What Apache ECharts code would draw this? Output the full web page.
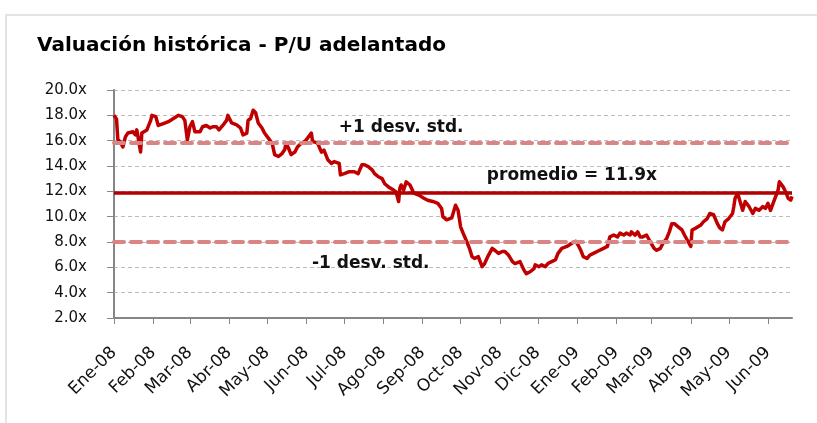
<!DOCTYPE html>
<html>
<head>
<meta charset="utf-8">
<title>Valuación histórica - P/U adelantado</title>
<script src="https://cdn.jsdelivr.net/npm/echarts@6/dist/echarts.min.js"></script>
<style>
  html, body { margin: 0; padding: 0; background: #fff; }
  #frame { position: absolute; left: 5px; top: 14px; width: 830px; height: 430px;
           border-left: 2px solid #e4e4e4; border-top: 2px solid #e4e4e4; }
  #chart { position: absolute; left: 0; top: 0; width: 817px; height: 423px; }
</style>
</head>
<body>
<div id="frame"></div>
<div id="chart"></div>
<script>
// P/E forward ratio
const peDates = [
  '2008-01-01','2008-01-03','2008-01-04','2008-01-06','2008-01-08','2008-01-10','2008-01-12','2008-01-16',
  '2008-01-18','2008-01-19','2008-01-20','2008-01-22','2008-01-23','2008-01-24','2008-01-27','2008-01-30',
  '2008-01-31','2008-02-03','2008-02-05','2008-02-09','2008-02-13','2008-02-17','2008-02-21','2008-02-24',
  '2008-02-26','2008-02-28','2008-03-01','2008-03-03','2008-03-05','2008-03-09','2008-03-11','2008-03-14',
  '2008-03-17','2008-03-19','2008-03-22','2008-03-24','2008-03-27','2008-03-30','2008-03-31','2008-04-03',
  '2008-04-07','2008-04-10','2008-04-12','2008-04-15','2008-04-16','2008-04-18','2008-04-20','2008-04-22',
  '2008-04-24','2008-04-27','2008-04-29','2008-05-02','2008-05-05','2008-05-07','2008-05-10','2008-05-13',
  '2008-05-15','2008-05-16','2008-05-18','2008-05-20','2008-05-23','2008-05-25','2008-05-28','2008-05-31',
  '2008-06-02','2008-06-05','2008-06-06','2008-06-10','2008-06-13','2008-06-15','2008-06-18','2008-06-21',
  '2008-06-23','2008-06-27','2008-06-28','2008-07-01','2008-07-05','2008-07-09','2008-07-12','2008-07-15',
  '2008-07-17','2008-07-20','2008-07-23','2008-07-25','2008-07-28','2008-07-31','2008-08-02','2008-08-05',
  '2008-08-09','2008-08-11','2008-08-13','2008-08-14','2008-08-15','2008-08-17','2008-08-19','2008-08-22',
  '2008-08-25','2008-08-29','2008-09-02','2008-09-05','2008-09-09','2008-09-13','2008-09-16','2008-09-17',
  '2008-09-20','2008-09-24','2008-09-27','2008-09-29','2008-10-01','2008-10-03','2008-10-06','2008-10-08',
  '2008-10-10','2008-10-12','2008-10-15','2008-10-18','2008-10-20','2008-10-23','2008-10-26','2008-10-28',
  '2008-10-31','2008-11-03','2008-11-05','2008-11-08','2008-11-11','2008-11-13','2008-11-17','2008-11-20',
  '2008-11-22','2008-11-25','2008-11-28','2008-11-29','2008-12-02','2008-12-04','2008-12-07','2008-12-09',
  '2008-12-12','2008-12-15','2008-12-17','2008-12-20','2008-12-24','2008-12-28','2008-12-31','2009-01-02',
  '2009-01-04','2009-01-06','2009-01-09','2009-01-11','2009-01-14','2009-01-17','2009-01-19','2009-01-22',
  '2009-01-25','2009-01-27','2009-01-30','2009-02-02','2009-02-04','2009-02-07','2009-02-09','2009-02-12',
  '2009-02-13','2009-02-16','2009-02-18','2009-02-20','2009-02-22','2009-02-25','2009-02-28','2009-03-03',
  '2009-03-05','2009-03-08','2009-03-10','2009-03-13','2009-03-15','2009-03-17','2009-03-19','2009-03-22',
  '2009-03-25','2009-03-27','2009-03-30','2009-04-01','2009-04-02','2009-04-05','2009-04-09','2009-04-11',
  '2009-04-14','2009-04-16','2009-04-19','2009-04-22','2009-04-24','2009-04-26','2009-04-28','2009-05-01',
  '2009-05-04','2009-05-05','2009-05-06','2009-05-08','2009-05-09','2009-05-12','2009-05-14','2009-05-17',
  '2009-05-20','2009-05-22','2009-05-25','2009-05-28','2009-05-30','2009-06-01','2009-06-03','2009-06-06',
  '2009-06-09','2009-06-10','2009-06-13','2009-06-15','2009-06-17','2009-06-19','2009-06-20'
];
const peValues = [
  18.0, 17.7, 16.1, 15.9, 15.5, 16.3, 16.6, 16.7,
  16.45, 16.85, 16.3, 15.1, 16.6, 16.7, 16.85, 17.6,
  18.0, 17.9, 17.2, 17.35, 17.5, 17.75, 18.0, 17.9,
  17.6, 16.05, 17.1, 17.5, 16.7, 16.7, 17.1, 17.2,
  17.0, 17.1, 17.1, 16.85, 17.2, 17.6, 18.0, 17.4,
  17.25, 17.0, 16.45, 16.6, 17.6, 17.75, 18.4, 18.2,
  17.4, 17.0, 16.6, 16.2, 15.8, 14.9, 14.75, 15.0,
  15.3, 15.8, 15.4, 14.9, 15.1, 15.5, 15.8, 15.95,
  16.2, 16.6, 15.95, 15.8, 15.1, 15.25, 14.5, 14.2,
  14.35, 14.2, 13.3, 13.4, 13.55, 13.55, 13.4, 14.1,
  14.1, 13.95, 13.7, 13.4, 13.15, 13.0, 12.6, 12.35,
  12.1, 11.95, 11.2, 12.25, 12.5, 12.1, 12.75, 12.5,
  11.85, 11.7, 11.45, 11.3, 11.2, 11.05, 10.65, 10.0,
  9.75, 9.9, 10.9, 10.5, 9.2, 8.7, 8.0, 7.5,
  6.85, 6.7, 6.85, 6.05, 6.3, 6.95, 7.5, 7.35,
  7.1, 7.25, 7.25, 6.95, 6.45, 6.3, 6.45, 5.8,
  5.5, 5.65, 5.9, 6.2, 6.05, 6.2, 6.05, 6.3,
  6.45, 6.6, 7.1, 7.5, 7.65, 7.9, 8.05, 7.75,
  7.35, 6.85, 6.7, 6.95, 7.1, 7.25, 7.35, 7.5,
  7.65, 8.4, 8.55, 8.4, 8.7, 8.55, 8.7, 8.55,
  8.8, 8.55, 8.8, 8.4, 8.4, 8.55, 8.0, 7.5,
  7.35, 7.5, 7.9, 8.3, 8.8, 9.45, 9.45, 9.2,
  8.95, 8.55, 8.0, 7.65, 8.95, 9.1, 9.35, 9.6,
  9.85, 10.25, 10.15, 9.45, 9.1, 8.95, 9.6, 9.85,
  10.25, 10.8, 11.45, 11.85, 11.7, 10.5, 11.2, 10.8,
  10.25, 10.65, 10.5, 10.8, 10.65, 11.05, 10.5, 11.3,
  12.1, 12.75, 12.35, 11.95, 11.45, 11.3, 11.6
];

const avgPE = 11.9;
const plusStd = 15.8;
const minusStd = 8.0;

const monthNames = ['Ene', 'Feb', 'Mar', 'Abr', 'May', 'Jun', 'Jul', 'Ago', 'Sep', 'Oct', 'Nov', 'Dic'];

const annotations = [
    {text: '+1 desv. std.', date: '2008-08-15', value: 17.0},
    {text: 'promedio = 11.9x', date: '2008-12-28', value: 13.25},
    {text: '-1 desv. std.', date: '2008-07-22', value: 6.3}
];

// 'YYYY-MM-DD' -> local timestamp
function toTime(s) {
    const p = s.split('-').map(Number);
    return new Date(p[0], p[1] - 1, p[2]).getTime();
}

// month starts Ene-08 .. Jun-09
const monthTicks = [];
for (let i = 0; i < 18; i++) {
    monthTicks.push(new Date(2008, i, 1).getTime());
}

const seriesData = peDates.map((d, i) => [toTime(d), peValues[i]]);

const chart = echarts.init(document.getElementById('chart'), null, {renderer: 'canvas'});

const option = {
    animation: false,
    title: {
        text: 'Valuación histórica - P/U adelantado',
        left: 32,
        top: 31,
        textStyle: {
            fontFamily: 'DejaVu Sans',
            fontSize: 20,
            fontWeight: 'bold',
            color: '#000'
        }
    },
    grid: {
        left: 114,
        right: 25,
        top: 90,
        bottom: 105
    },
    xAxis: {
        type: 'value',
        min: toTime('2008-01-01'),
        max: toTime('2009-06-20'),
        axisLine: {lineStyle: {color: '#868686', width: 2}},
        axisTick: {
            show: true,
            customValues: monthTicks,
            length: 6,
            lineStyle: {color: '#868686', width: 1}
        },
        axisLabel: {
            customValues: monthTicks,
            rotate: 45,
            margin: 32,
            fontFamily: 'DejaVu Sans',
            fontSize: 17,
            color: '#111',
            formatter: function (val) {
                const d = new Date(val);
                return monthNames[d.getMonth()] + '-' + String(d.getFullYear()).slice(2);
            }
        },
        splitLine: {show: false}
    },
    yAxis: {
        type: 'value',
        min: 2,
        max: 20,
        interval: 2,
        axisLine: {show: true, lineStyle: {color: '#868686', width: 2}},
        axisTick: {show: true, length: 7, lineStyle: {color: '#868686', width: 1}},
        axisLabel: {
            margin: 27,
            fontFamily: 'DejaVu Sans',
            fontSize: 15,
            color: '#111',
            formatter: v => v.toFixed(1) + 'x'
        },
        splitLine: {
            show: true,
            lineStyle: {color: '#bdbdbd', type: [4, 3], width: 1}
        }
    },
    series: [
        {
            name: 'P/U adelantado',
            type: 'line',
            data: seriesData,
            showSymbol: false,
            symbol: 'none',
            z: 2,
            lineStyle: {color: '#C00000', width: 3.5, join: 'round'}
        },
        {
            name: 'referencias',
            type: 'line',
            data: [],
            z: 3,
            markLine: {
                silent: true,
                symbol: 'none',
                label: {show: false},
                data: [
                    {yAxis: avgPE, lineStyle: {color: '#B00000', width: 3.5, type: 'solid'}},
                    {yAxis: plusStd, lineStyle: {color: '#D98585', width: 4, type: [10, 7], cap: 'round'}},
                    {yAxis: minusStd, lineStyle: {color: '#D98585', width: 4, type: [10, 7], cap: 'round'}}
                ]
            },
            markPoint: {
                silent: true,
                symbol: 'rect',
                symbolSize: 0,
                label: {
                    show: true,
                    position: 'inside',
                    fontFamily: 'DejaVu Sans',
                    fontSize: 17,
                    fontWeight: 'bold',
                    color: '#111',
                    formatter: p => p.name
                },
                data: annotations.map(a => ({name: a.text, coord: [toTime(a.date), a.value]}))
            }
        }
    ]
};

chart.setOption(option);
</script>
</body>
</html>
